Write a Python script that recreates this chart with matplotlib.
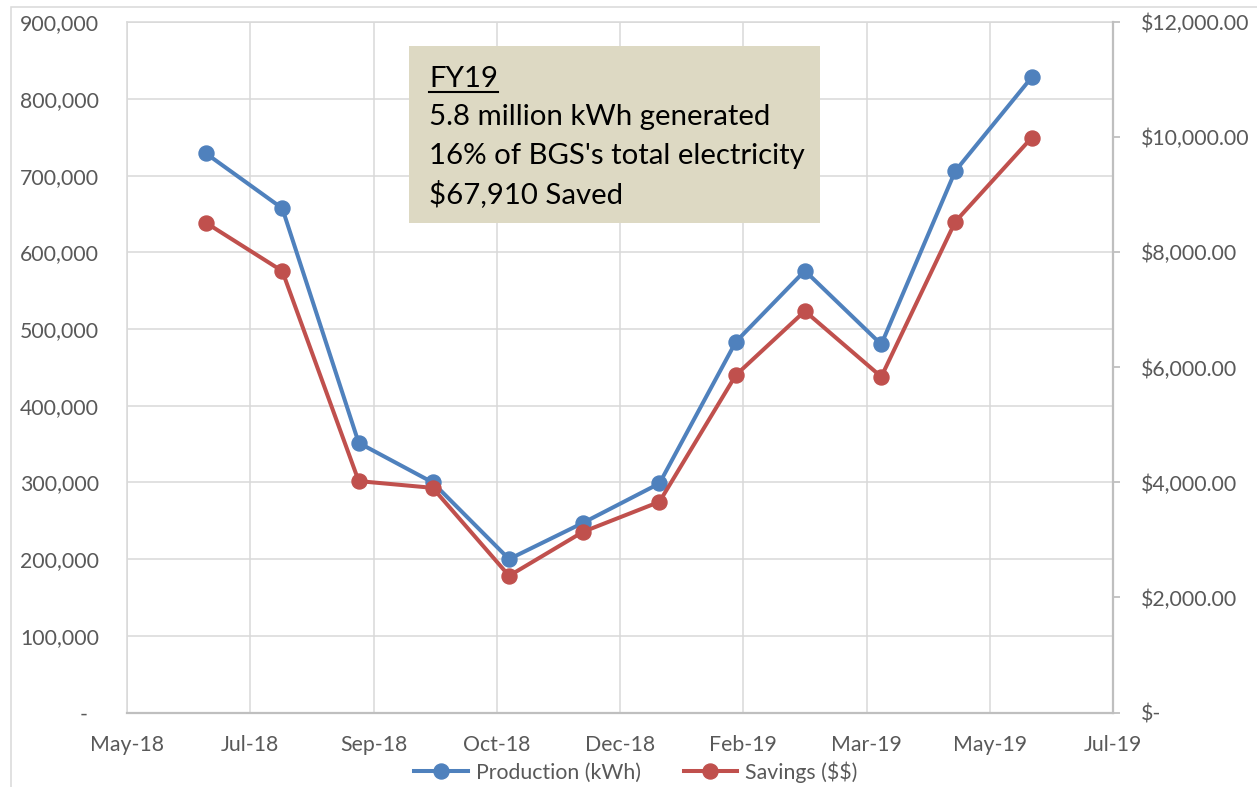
import matplotlib
matplotlib.use("Agg")
import matplotlib.pyplot as plt
import matplotlib.dates as mdates
from matplotlib.patches import Rectangle
from matplotlib.lines import Line2D
from matplotlib.ticker import FuncFormatter, MultipleLocator
import pandas as pd

plt.rcParams['font.family'] = ['Lato', 'DejaVu Sans']

# ---- data ----
months = ["2018-07-01", "2018-08-01", "2018-09-01", "2018-10-01", "2018-11-01", "2018-12-01",
          "2019-01-01", "2019-02-01", "2019-03-01", "2019-04-01", "2019-05-01", "2019-06-01"]
production_kwh = [729100, 657400, 351600, 300000, 200000, 247300,
                  298700, 483400, 576000, 480000, 706000, 828200]
savings_usd = [8515, 7675, 4023, 3906, 2376, 3141,
               3663, 5866, 6979, 5837, 8532, 9993]
series_names = ["Production (kWh)", "Savings ($$)"]
x_start, x_end = "2018-05-30", "2019-07-04"
box_title = "FY19"
box_lines = ["5.8 million kWh generated",
             "16% of BGS's total electricity",
             "$67,910 Saved"]

W, H = 1257, 787
dates = pd.to_datetime(months)

fig = plt.figure(figsize=(W / 100, H / 100), dpi=100)
fig.patch.set_facecolor("white")

L, R, T, B = 127, 1113, 22.3, 712.5
ax = fig.add_axes([L / W, 1 - B / H, (R - L) / W, (B - T) / H])
ax2 = ax.twinx()

blue = "#4F81BD"
red = "#C0504D"
grid_c = "#D9D9D9"
axis_c = "#BFBFBF"
txt_c = "#595959"
fs = 15.3

ax.plot(dates, production_kwh, color=blue, lw=2.9, marker="o", ms=10.8,
        mfc=blue, mec=blue, label="_p", zorder=3)
ax2.plot(dates, savings_usd, color=red, lw=2.9, marker="o", ms=10.8,
         mfc=red, mec=red, label="_s", zorder=3)

ax.set_xlim(pd.Timestamp(x_start), pd.Timestamp(x_end))
xt = pd.date_range(x_start, x_end, freq="50D")
ax.set_xticks(xt)
ax.xaxis.set_major_formatter(mdates.DateFormatter("%b-%y"))

ax.set_ylim(0, 900000)
ax.set_yticks(range(0, 900001, 100000))
ax.yaxis.set_major_formatter(FuncFormatter(lambda v, p: "-" if abs(v) < 1e-9 else f"{v:,.0f}"))
ax2.set_ylim(0, 12000)
ax2.set_yticks(range(0, 12001, 2000))
ax2.yaxis.set_major_formatter(FuncFormatter(lambda v, p: "$-" if abs(v) < 1e-9 else f"${v:,.2f}"))

ax.grid(True, color=grid_c, lw=1.1, zorder=0)
ax.set_axisbelow(True)

for s in ["left", "top"]:
    ax.spines[s].set_color(grid_c)
    ax.spines[s].set_linewidth(1.1)
ax.spines["right"].set_visible(False)
ax.spines["bottom"].set_color(axis_c)
ax.spines["bottom"].set_linewidth(1.6)
for s in ["left", "top", "bottom"]:
    ax2.spines[s].set_visible(False)
ax2.spines["right"].set_color(axis_c)
ax2.spines["right"].set_linewidth(1.6)

ax.tick_params(axis="x", length=0, pad=16, labelsize=fs, labelcolor=txt_c)
ax.tick_params(axis="y", length=0, pad=20, labelsize=fs, labelcolor=txt_c)
ax2.tick_params(axis="y", length=5, width=1.3, color=axis_c, direction="out",
                pad=15, labelsize=fs, labelcolor=txt_c)

# accounting-format zero label sits a little further left
fig.canvas.draw()
for t in ax.yaxis.get_major_ticks():
    if abs(t.get_loc()) < 1e-9:
        t.label1.set_x(-12 / (R - L))

# chart-area border
fig.patches.append(Rectangle((11 / W, -0.1), 1.2, 1 - 7 / H + 0.1, transform=fig.transFigure,
                             facecolor="none", edgecolor=grid_c, lw=1.1, clip_on=False))

# annotation box
bx0, bx1, by0, by1 = 409, 820, 46, 223.3
fig.patches.append(Rectangle((bx0 / W, 1 - by1 / H), (bx1 - bx0) / W, (by1 - by0) / H,
                             transform=fig.transFigure, facecolor="#DDD9C3",
                             edgecolor="none", zorder=5))
tx = 429.3 / W
bfs = 21.2
baselines = [86.7, 125.4, 164.1, 202.8]
ttl = fig.text(tx, 1 - baselines[0] / H, box_title, fontsize=bfs, color="black",
               va="baseline", ha="left", zorder=6, parse_math=False)
for line, yb in zip(box_lines, baselines[1:]):
    fig.text(tx, 1 - yb / H, line, fontsize=bfs, color="black",
             va="baseline", ha="left", zorder=6, parse_math=False)
fig.canvas.draw()
bb = ttl.get_window_extent()
uy = 1 - 91.5 / H
fig.lines.append(Line2D([bb.x0 / W, bb.x1 / W], [uy, uy], transform=fig.transFigure,
                        color="black", lw=1.5, zorder=6))

# legend
handles = ax.get_lines()[:1] + ax2.get_lines()[:1]
leg = fig.legend(handles, series_names, loc="center", bbox_to_anchor=(636 / W, 1 - 772 / H),
                 ncol=2, frameon=False, fontsize=fs, handlelength=2.5, handletextpad=0.4,
                 columnspacing=2.0, labelcolor=txt_c)
for t in leg.get_texts():
    t.set_parse_math(False)

fig.savefig("out.png", dpi=100)
